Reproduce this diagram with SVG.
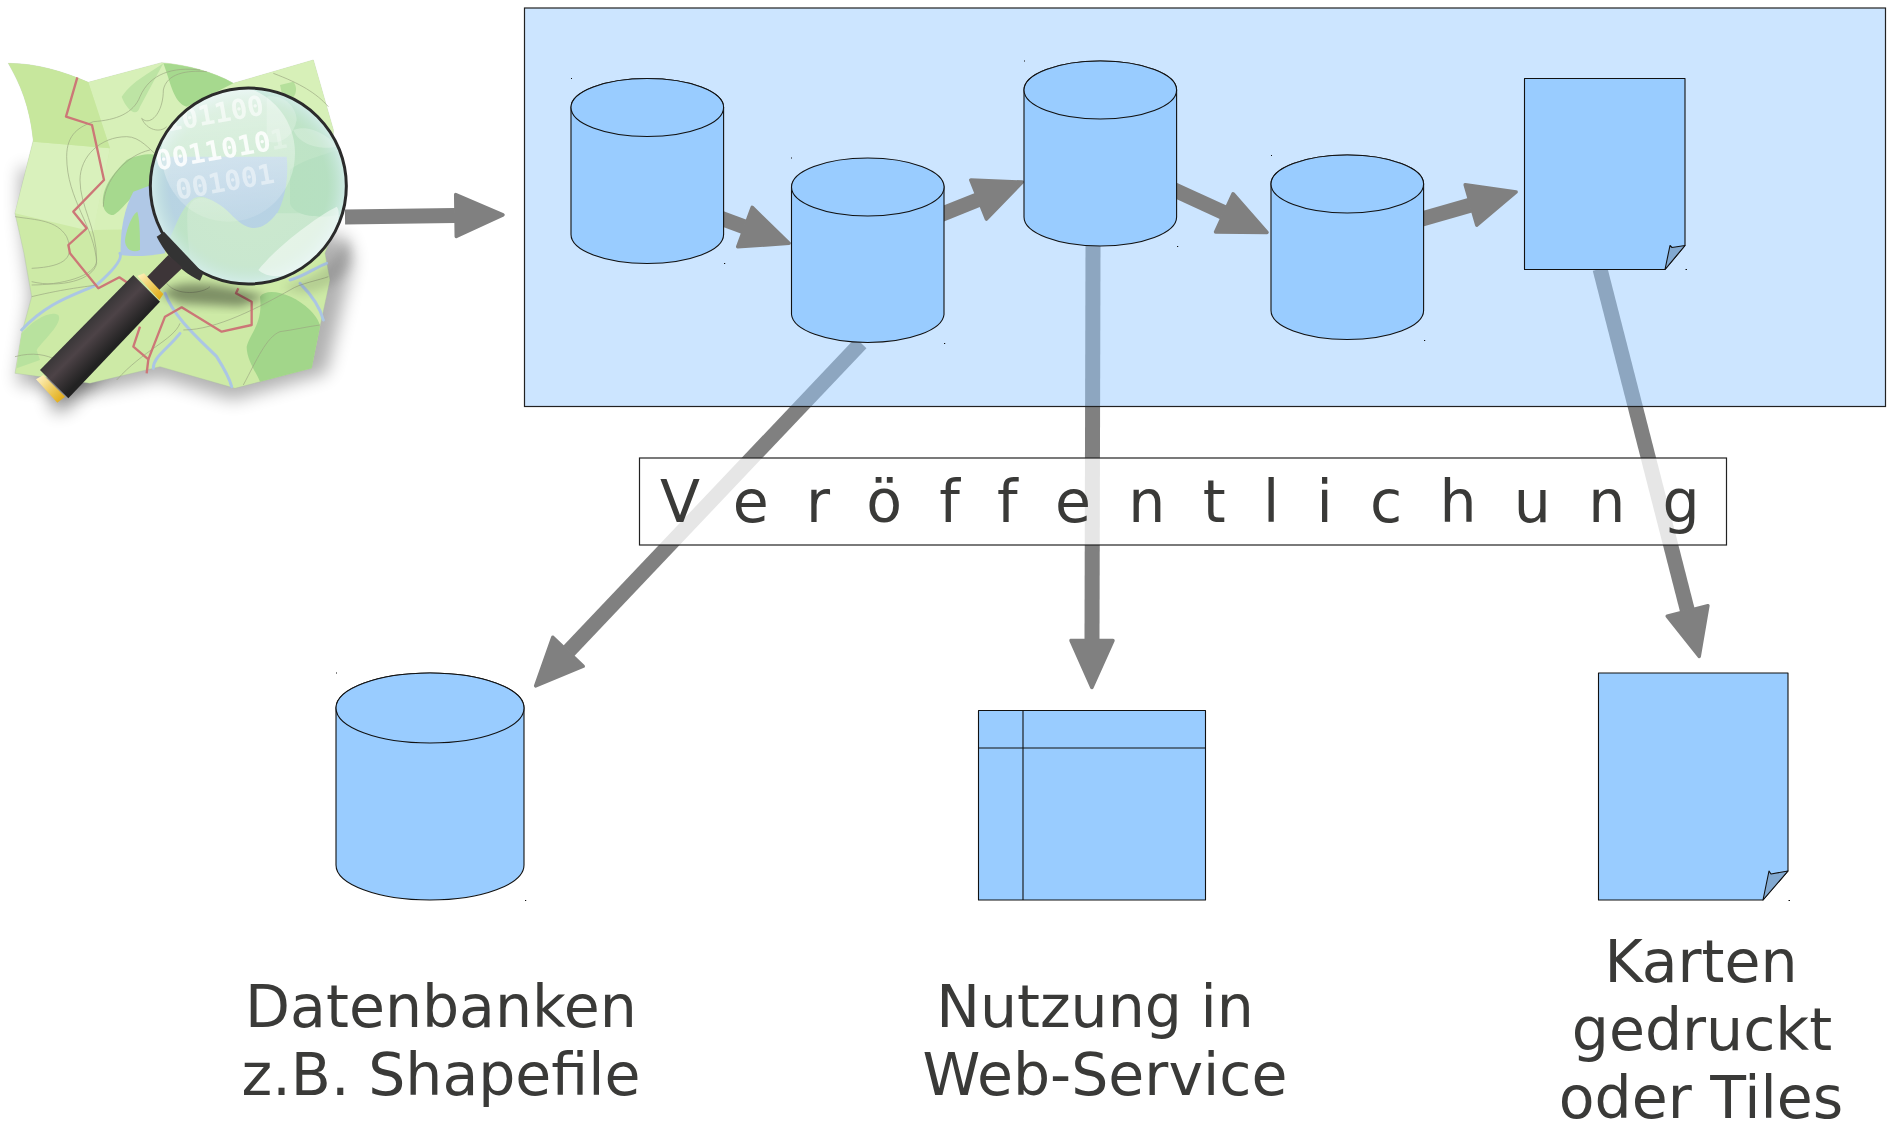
<svg xmlns="http://www.w3.org/2000/svg" width="1894" height="1121" viewBox="0 0 1894 1121">
<style>
.c{stroke:#808080;stroke-width:15;fill:none;marker-end:url(#head)}
.n{fill:#99ccff;stroke:#111;stroke-width:1.1;stroke-linejoin:round}
.fold{fill:#82a9d1;stroke:#111;stroke-width:1.1;stroke-linejoin:round}
.d{fill:#111}
.t{font-family:"DejaVu Sans",sans-serif;font-size:58.500px;fill:#3a3a38}
.con{fill:none;stroke:#9aa680;stroke-width:2.5;opacity:.8}
.riv{fill:none;stroke:#abc6e4;stroke-width:9;stroke-linecap:round}
.bin{font-family:"DejaVu Sans Mono",monospace;font-weight:bold;font-size:83px;fill:#fff}
</style>
<defs>
<marker id="head" markerUnits="userSpaceOnUse" viewBox="-2 -25 54 50" refX="0" refY="0" markerWidth="54" markerHeight="50" orient="auto">
<path d="M1 -21 L48 0 L1 21 Z" fill="#808080" stroke="#808080" stroke-width="3.5" stroke-linejoin="round"/>
</marker>
<filter id="b30" x="-30%" y="-30%" width="160%" height="160%"><feGaussianBlur stdDeviation="26"/></filter>
<filter id="b12" x="-30%" y="-30%" width="160%" height="160%"><feGaussianBlur stdDeviation="14"/></filter>
<linearGradient id="hg" gradientUnits="userSpaceOnUse" x1="260" y1="830" x2="345" y2="915">
<stop offset="0" stop-color="#333"/><stop offset=".45" stop-color="#4d4347"/><stop offset="1" stop-color="#222"/>
</linearGradient>
<linearGradient id="gold" gradientUnits="userSpaceOnUse" x1="110" y1="1015" x2="190" y2="1085">
<stop offset="0" stop-color="#fff2c0"/><stop offset=".6" stop-color="#ecc550"/><stop offset="1" stop-color="#e0a810"/>
</linearGradient>
<linearGradient id="gold2" gradientUnits="userSpaceOnUse" x1="415" y1="700" x2="490" y2="775">
<stop offset="0" stop-color="#fff2c0"/><stop offset=".6" stop-color="#ecc550"/><stop offset="1" stop-color="#e0a810"/>
</linearGradient>
<radialGradient id="lens" gradientUnits="userSpaceOnUse" cx="745" cy="438" r="296">
<stop offset="0" stop-color="#c0e6c8" stop-opacity=".1"/><stop offset=".8" stop-color="#bde2cf" stop-opacity=".25"/><stop offset="1" stop-color="#d6eeee" stop-opacity=".95"/>
</radialGradient>
<linearGradient id="fade" gradientUnits="userSpaceOnUse" x1="640" y1="150" x2="680" y2="540">
<stop offset="0" stop-color="#fff" stop-opacity=".55"/><stop offset=".6" stop-color="#fff" stop-opacity=".32"/><stop offset="1" stop-color="#fff" stop-opacity=".12"/>
</linearGradient>
<clipPath id="lc"><circle cx="745" cy="438" r="294"/></clipPath>
</defs>

<g id="connectors-back">
<path class="c" d="M861 343 L568.7 651"/>
<path class="c" d="M1093 245 L1092 639.5"/>
<path class="c" d="M1600 269 L1687.3 610"/>
</g>

<g id="panel"><rect x="524.5" y="8" width="1361" height="398.5" fill="#99ccff" fill-opacity=".5" stroke="#222" stroke-width="1.2"/></g>

<g id="connectors-front">
<path class="c" d="M345 217 L455 215.5"/>
<path class="c" d="M715 216 L744 226.7"/>
<path class="c" d="M935 217 L977.7 199.9"/>
<path class="c" d="M1168 187 L1223.4 212.4"/>
<path class="c" d="M1415 221 L1470 205.2"/>
</g>

<g id="db1">
<path class="n" d="M571 107.5 A76.3 29 0 0 1 723.6 107.5 V234.5 A76.3 29 0 0 1 571 234.5 Z"/>
<ellipse class="n" cx="647.3" cy="107.5" rx="76.3" ry="29"/>
<rect class="d" x="571" y="78" width="1" height="1"/><rect class="d" x="724" y="263" width="1.2" height="1"/>
</g>
<g id="db2">
<path class="n" d="M791.500 187 A76.3 29 0 0 1 944 187 V314.500 A76.3 29 0 0 1 791.500 314.500 Z"/>
<ellipse class="n" cx="867.800" cy="187" rx="76.3" ry="29"/>
<rect class="d" x="791" y="157.500" width="1" height="1"/><rect class="d" x="944" y="343" width="1.2" height="1"/>
</g>
<g id="db3">
<path class="n" d="M1024 90 A76.3 29 0 0 1 1176.600 90 V217 A76.3 29 0 0 1 1024 217 Z"/>
<ellipse class="n" cx="1100.300" cy="90" rx="76.3" ry="29"/>
<rect class="d" x="1024" y="60.500" width="1" height="1"/><rect class="d" x="1177" y="246" width="1.2" height="1"/>
</g>
<g id="db4">
<path class="n" d="M1271 184 A76.3 29 0 0 1 1423.600 184 V310.500 A76.3 29 0 0 1 1271 310.500 Z"/>
<ellipse class="n" cx="1347.300" cy="184" rx="76.3" ry="29"/>
<rect class="d" x="1271" y="155" width="1" height="1"/><rect class="d" x="1424" y="340" width="1.2" height="1"/>
</g>
<g id="doc1">
<path class="n" d="M1524.500 78.500 H1685 V245.500 L1665 269.500 H1524.500 Z"/>
<path class="fold" d="M1665 269.500 L1670 245.500 L1672 247.500 L1685 245.500 Z"/>
<rect class="d" x="1685.500" y="269" width="1.500" height="1"/>
</g>

<g id="label-box">
<rect x="639.500" y="458" width="1087" height="87" fill="#fff" fill-opacity=".8" stroke="#222" stroke-width="1.2"/>
<text class="t" x="660" y="522" letter-spacing="37.3">Veröffentlichung</text>
</g>

<g id="db-large">
<path class="n" d="M336 708 A94 35 0 0 1 524 708 V865 A94 35 0 0 1 336 865 Z"/>
<ellipse class="n" cx="430" cy="708" rx="94" ry="35"/>
<rect class="d" x="336" y="672.500" width="1" height="1"/><rect class="d" x="525" y="900" width="1.200" height="1"/>
<text class="t" x="441" y="1027" text-anchor="middle">Datenbanken</text>
<text class="t" x="441" y="1095" text-anchor="middle">z.B. Shapefile</text>
</g>
<g id="web-service">
<rect class="n" x="978.500" y="710.500" width="227" height="189.500"/>
<path d="M978.500 748 H1205.500 M1023 710.500 V900" fill="none" stroke="#111" stroke-width="1.100"/>
<text class="t" x="1095" y="1027" text-anchor="middle">Nutzung in</text>
<text class="t" x="1105" y="1095" text-anchor="middle">Web-Service</text>
</g>
<g id="doc2">
<path class="n" d="M1598.500 673 H1788 V871 L1763 900 H1598.500 Z"/>
<path class="fold" d="M1763 900 L1769 871 L1771 874 L1788 871 Z"/>
<rect class="d" x="1788.500" y="900" width="1.500" height="1"/>
<text class="t" x="1701" y="982" text-anchor="middle">Karten</text>
<text class="t" x="1702" y="1050" text-anchor="middle">gedruckt</text>
<text class="t" x="1701" y="1117.500" text-anchor="middle">oder Tiles</text>
</g>

<g id="logo" transform="translate(0,40) scale(.33333)">
<path d="M60 380 L700 560 L1040 590 L1060 660 L980 1000 L700 1080 L480 1015 L270 1060 L50 1030 L90 770 L60 520 Z" fill="#000" opacity=".3" filter="url(#b30)"/>
<path d="M130 1010 L400 760 L470 820 L210 1100 L165 1120 Z" fill="#000" opacity=".42" filter="url(#b30)"/>
<path id="map" d="M25 70 C110 70 190 95 265 127 L485 68 C560 75 640 95 700 130 L940 60 L1000 270 L990 600 L975 640 L990 720 L960 860 L935 985 L705 1045 L480 980 L270 1030 L45 1000 L65 880 L95 770 L72 640 L45 520 L100 300 C90 200 60 130 25 70 Z" fill="#cdeaa6" stroke="#a8b8a0" stroke-width="1"/>
<path d="M265 127 L485 68 C560 75 640 95 700 130 L940 60 L1000 270 L990 600 L820 560 L280 570 L330 325 Z" fill="#d7f0b8"/>
<path d="M100 305 L330 325 L280 575 L45 520 Z" fill="#d9f1bc"/>
<path d="M25 70 C110 70 190 95 265 127 L330 325 L100 305 C90 200 60 130 25 70 Z" fill="#c7e79d"/>
<path d="M365 170 C400 120 450 100 490 70 L420 200 C410 235 380 210 365 170 Z" fill="#bde4a4"/>
<path d="M490 70 C560 75 640 95 700 130 L560 200 C520 190 510 120 490 70 Z" fill="#a6d98e"/>
<path d="M840 135 L880 125 C900 150 880 190 850 180 Z" fill="#b5e09b"/>
<path d="M310 500 C300 440 350 390 380 360 C410 345 450 340 470 345 L450 440 C400 450 370 510 340 525 C325 525 315 515 310 500 Z" fill="#a6d98e"/>
<path d="M65 880 C100 840 150 810 175 825 C190 850 130 900 110 930 L120 960 L50 985 Z" fill="#b8e29e"/>
<path d="M780 770 C800 740 880 760 930 810 C950 830 960 850 960 860 L935 985 L780 1025 C770 1000 740 960 740 920 C750 880 790 850 780 770 Z" fill="#a2d68a"/>
<path d="M400 455 C370 510 360 580 362 645 C400 650 440 650 495 640 L480 425 Z" fill="#b0c8e6"/>
<path d="M375 600 C380 560 400 520 412 515 C420 540 420 600 420 630 C400 640 375 630 375 600 Z" fill="#a8dc90"/>
<path class="riv" d="M65 870 C140 790 210 770 290 735 C330 700 370 660 360 640"/>
<path class="riv" d="M495 760 C520 830 600 900 650 950 C675 990 690 1020 695 1040"/>
<path class="riv" d="M900 730 C930 760 960 800 970 840"/>
<path class="riv" d="M460 985 C460 950 500 930 540 880"/>
<path class="riv" d="M870 720 C910 710 950 680 980 670"/>
<path class="con" d="M45 530 C110 540 170 540 200 590 C225 650 200 680 95 685"/>
<path class="con" d="M95 725 C180 745 280 720 290 670 C285 560 200 480 200 350 C200 280 240 260 280 245 C350 240 400 220 420 170 C450 100 520 80 600 90"/>
<path class="con" d="M240 420 C240 350 300 290 380 290 C420 290 450 330 470 345"/>
<path class="con" d="M240 420 C240 500 290 560 290 660 C290 710 180 735 95 735"/>
<path class="con" d="M310 500 C310 420 380 345 450 330"/>
<path class="con" d="M490 150 C500 100 560 90 620 95 M490 150 C490 220 450 260 425 235 C440 270 480 280 500 260"/>
<path class="con" d="M820 100 C900 130 950 160 985 200"/>
<path class="con" d="M95 770 C200 745 260 740 290 735"/>
<path class="con" d="M500 730 C530 770 610 760 630 740"/>
<path class="con" d="M540 850 C520 900 430 930 350 1020 M45 950 C100 935 140 945 170 960"/>
<path class="con" d="M550 870 C650 870 780 800 870 750 C900 730 960 720 985 710"/>
<path class="con" d="M730 1035 C770 960 800 890 840 875 C880 870 920 860 960 855"/>
<g fill="none" stroke="#cc7777" stroke-width="7" stroke-linejoin="round">
<path d="M232 112 L198 230 L276 255 L312 420 L220 515 L260 565 L205 615 L210 640 L295 745 L358 712 L400 740"/>
<path d="M420 860 L400 920 L445 958 L440 1000"/>
<path d="M445 958 L495 830 L545 802 L665 875 L755 855 L755 785 L708 760 L715 745"/>
</g>
<path d="M480 760 C540 710 660 730 800 770 L720 800 L540 790 Z" fill="#000" opacity=".38" filter="url(#b12)"/>
<path d="M850 740 C930 720 1000 680 1040 600 C1070 650 1050 700 1000 730 C950 760 900 770 850 740 Z" fill="#000" opacity=".12" filter="url(#b12)"/>
<circle cx="745" cy="438" r="294" fill="#bfe4c4"/>
<g clip-path="url(#lc)">
<path d="M440 350 L860 350 C870 440 840 560 770 570 C700 570 660 470 600 470 C550 470 520 580 490 640 L520 660 L440 600 Z" fill="#b6cfe9"/>
<path d="M440 440 L470 430 L490 640 L540 680 L460 600 Z" fill="#b6cfe9"/>
<path d="M562 520 C570 450 640 465 700 530 C760 590 800 560 830 520 L1040 520 L1040 760 L600 760 C570 680 560 600 562 520 Z" fill="#cde9cf"/>
<path d="M870 390 C900 360 990 340 1040 320 L1040 520 C960 540 880 530 870 490 Z" fill="#b4dfbd"/>
<circle cx="745" cy="438" r="294" fill="url(#lens)"/>
<ellipse cx="685" cy="340" rx="200" ry="205" fill="url(#fade)"/>
<path d="M775 690 C830 620 950 530 1010 500 C1030 520 1000 610 950 650 C900 700 820 730 775 690 Z" fill="#fff" opacity=".5"/>
<path d="M800 170 C860 160 890 210 890 240 C880 300 820 320 800 300 Z" fill="#fff" opacity=".22"/>
<path d="M880 270 C930 250 990 290 1010 320 C970 330 900 320 880 270 Z" fill="#fff" opacity=".22"/>
<text class="bin" transform="rotate(-10 520 270)" x="500" y="272" opacity=".6">101100</text>
<text class="bin" transform="rotate(-10 490 390)" x="472" y="388" opacity=".85">0011010<tspan fill-opacity=".3">1</tspan></text>
<text class="bin" transform="rotate(-10 540 470)" x="530" y="478" opacity=".45">001001</text>
</g>
<circle cx="745" cy="438" r="294" fill="none" stroke="#2b2b2b" stroke-width="9"/>
<path d="M470 590 L492 575 L610 700 L600 722 C550 700 500 650 470 590 Z" fill="#333"/>
<path d="M505 645 L548 683 L475 752 L440 712 Z" fill="#3d3538"/>
<path d="M400 705 L480 785 L205 1075 L120 990 Z" fill="url(#hg)"/>
<path d="M412 708 L432 700 L490 762 L478 780 Z" fill="url(#gold2)"/>
<path d="M108 1018 L130 1005 L195 1070 L172 1088 Z" fill="url(#gold)"/>
</g>
</svg>
